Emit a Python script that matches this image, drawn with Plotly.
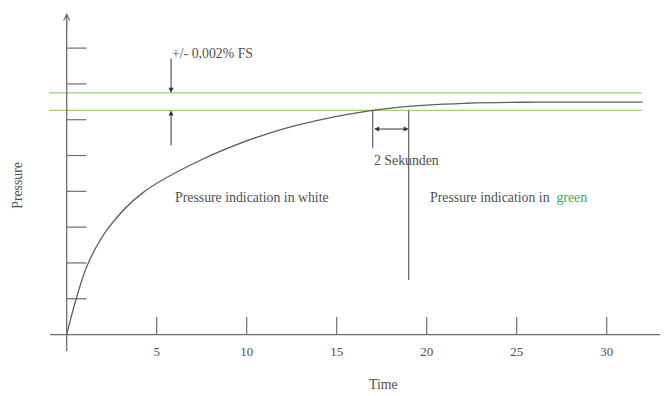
import plotly.graph_objects as go

# pressure curve
time = [0, 0.53, 1.2, 2.35, 4.2, 7.4, 11.1, 14.8, 18.5, 22.2, 26, 32]
pressure = [0, 1.0, 2.0, 3.0, 3.95, 4.86, 5.6, 6.07, 6.35, 6.46, 6.49, 6.49]

x_ticks = [5, 10, 15, 20, 25, 30]
x_tick_labels = ["5", "10", "15", "20", "25", "30"]
y_ticks = [1, 2, 3, 4, 5, 6, 7, 8]

band_upper = 6.75
band_lower = 6.26
t_green_start = 17
t_green_end = 19
t_band_arrow = 5.8

GRAY = "#6e6e6e"
TEXT = "#505050"
GREEN = "#9fd26a"
FONT = "Liberation Serif, DejaVu Serif, serif"

fig = go.Figure()

# tolerance band
for yb in [band_upper, band_lower]:
    fig.add_trace(go.Scatter(x=[-0.98, 31.95], y=[yb, yb], mode="lines",
                             line=dict(color=GREEN, width=1.2), hoverinfo="skip"))

# axes
fig.add_trace(go.Scatter(x=[-0.93, 34], y=[0, 0], mode="lines",
                         line=dict(color=GRAY, width=1.3), hoverinfo="skip"))
fig.add_trace(go.Scatter(x=[0, 0], y=[-0.47, 8.95], mode="lines",
                         line=dict(color=GRAY, width=1.3), hoverinfo="skip"))

# tick marks
tx, ty = [], []
for t in x_ticks:
    tx += [t, t, None]
    ty += [0, 0.49, None]
for v in y_ticks:
    tx += [0, 1.1, None]
    ty += [v, v, None]
fig.add_trace(go.Scatter(x=tx, y=ty, mode="lines",
                         line=dict(color=GRAY, width=1.2), hoverinfo="skip"))

fig.add_trace(go.Scatter(x=x_ticks, y=[-0.52] * len(x_ticks), mode="text",
                         text=x_tick_labels, textfont=dict(family=FONT, size=13, color=TEXT),
                         hoverinfo="skip"))

# pressure curve
fig.add_trace(go.Scatter(x=time, y=pressure, mode="lines", line_shape="spline",
                         line=dict(color="#5f5f5f", width=1.3), hoverinfo="skip"))

# 2 second marker lines
fig.add_trace(go.Scatter(x=[t_green_start, t_green_start, None, t_green_end, t_green_end],
                         y=[band_lower, 5.22, None, band_lower, 1.52], mode="lines",
                         line=dict(color="#555555", width=1.1), hoverinfo="skip"))

arrow = dict(xref="x", yref="y", axref="x", ayref="y", showarrow=True,
             arrowcolor="#333333", arrowwidth=1, arrowsize=1, text="")
fig.add_annotation(x=t_green_end, y=5.74, ax=t_green_start, ay=5.74,
                   arrowhead=2, startarrowhead=2, arrowside="end+start", **arrow)
fig.add_annotation(x=t_band_arrow, y=band_upper, ax=t_band_arrow, ay=7.75, arrowhead=2, **arrow)
fig.add_annotation(x=t_band_arrow, y=band_lower, ax=t_band_arrow, ay=5.24, arrowhead=2, **arrow)
# y axis arrow tip
fig.add_annotation(x=0, y=8.98, ax=0, ay=8.5, xref="x", yref="y", axref="x", ayref="y",
                   showarrow=True, arrowhead=5, arrowsize=1.2, arrowwidth=1,
                   arrowcolor=GRAY, text="")

font = dict(family=FONT, size=13.8, color=TEXT)
fig.add_annotation(x=5.75, y=7.86, text="+/- 0,002% FS", showarrow=False,
                   xanchor="left", font=font)
fig.add_annotation(x=16.95, y=4.85, text="2 Sekunden", showarrow=False,
                   xanchor="left", font=font)
fig.add_annotation(x=10.3, y=3.83, text="Pressure indication in white", showarrow=False,
                   font=font)
fig.add_annotation(x=20.05, y=3.84,
                   text="Pressure indication in  <span style='color:#3daa60'>green</span>",
                   showarrow=False, xanchor="left", font=font)
fig.add_annotation(x=17.6, y=-1.4, text="Time", showarrow=False, font=font)
fig.add_annotation(x=-2.71, y=4.18, text="Pressure", showarrow=False, textangle=-90,
                   font=font)

# ranges shifted by the page's 8px body margin
fig.update_layout(
    width=668, height=396,
    margin=dict(l=0, r=0, t=0, b=0),
    paper_bgcolor="white", plot_bgcolor="white",
    showlegend=False,
    xaxis=dict(range=[-3.26, 33.85], visible=False, fixedrange=True),
    yaxis=dict(range=[-1.94, 9.12], visible=False, fixedrange=True),
)

fig.write_html("out.html")
